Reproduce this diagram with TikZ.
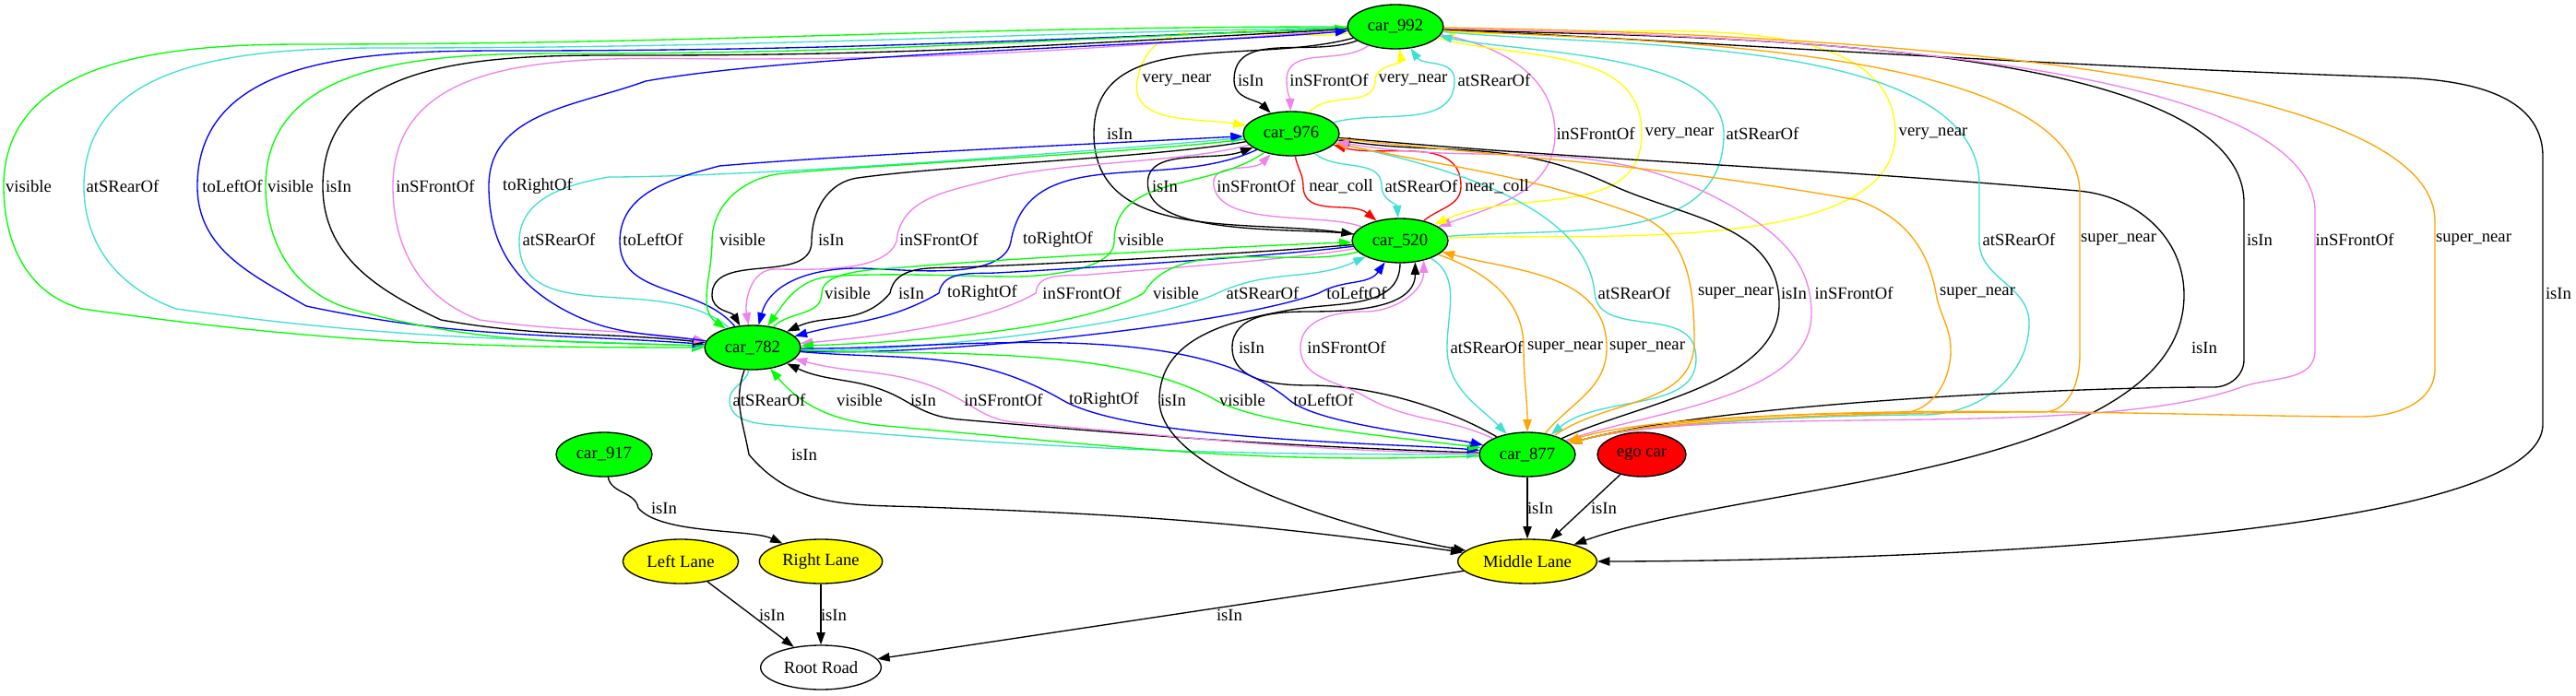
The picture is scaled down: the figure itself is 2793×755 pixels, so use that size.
\documentclass[tikz,border=0pt]{standalone}
\usepackage{fontspec}
\setmainfont{Liberation Serif}
\usetikzlibrary{arrows.meta,shapes.geometric}
\definecolor{gvgreen}{HTML}{00FF00}
\definecolor{gvturq}{HTML}{40E0D0}
\definecolor{gvblue}{HTML}{0000FF}
\definecolor{gvviolet}{HTML}{EE82EE}
\definecolor{gvyellow}{HTML}{FFFF00}
\definecolor{gvorange}{HTML}{FFA500}
\definecolor{gvred}{HTML}{FF0000}
\newcommand\lbl[3]{\node[lb] (#1) at (#2) {#3};}
\begin{document}
\begin{tikzpicture}[x=0.75pt,y=-0.75pt,
  every node/.style={font=\fontsize{14}{16}\selectfont},
  car/.style={ellipse, draw=black, line width=1pt, fill=gvgreen, minimum width=78pt, minimum height=36pt, inner sep=0pt},
  lane/.style={car, fill=gvyellow},
  lb/.style={inner sep=0pt},
  ed/.style={line width=1pt, -{Triangle[length=10pt,width=7pt]}},
  eK/.style={ed, draw=black},
  eG/.style={ed, draw=gvgreen},
  eT/.style={ed, draw=gvturq},
  eB/.style={ed, draw=gvblue},
  eV/.style={ed, draw=gvviolet},
  eY/.style={ed, draw=gvyellow},
  eO/.style={ed, draw=gvorange},
  eR/.style={ed, draw=gvred}]
\useasboundingbox (0,0) rectangle (2793,755);
\fill[white] (0,0) rectangle (2793,755);

% nodes
\node[car] (n992) at (1513,29) {car\_992};
\node[car] (n976) at (1400,145) {car\_976};
\node[car] (n520) at (1518,261) {car\_520};
\node[car] (n782) at (816,377) {car\_782};
\node[car] (n877) at (1656,493) {car\_877};
\node[car] (n917) at (655,493) {car\_917};
\node[car, fill=gvred, minimum width=72pt] (ego) at (1780,493) {ego car};
\node[lane, minimum width=113pt] (ml) at (1656,609) {Middle Lane};
\node[lane, minimum width=94pt] (ll) at (738,609) {Left Lane};
\node[lane, minimum width=100pt] (rl) at (890,609) {Right Lane};
\node[car, fill=white, minimum width=98pt] (rr) at (890,724) {Root Road};

% A: 992 <-> 976
\draw[eY] (n992) to[out=188,in=80] (1233,87) to[out=-100,in=170] (n976);
\draw[eK] (n992) to[out=200,in=90] (1338,87) to[out=-90,in=135] (n976);
\draw[eV] (n992) to[out=215,in=90] (1395,87) to[out=-90,in=92] (n976);
\draw[eY] (n976) to[out=50,in=-90] (1491,87) to[out=90,in=-80] (n992);
\draw[eT] (n976) to[out=15,in=-90] (1577,87) to[out=90,in=-55] (n992);
% B: 992 <-> 520
\draw[eK] (n992) to[out=195,in=90] (1186,145) to[out=-90,in=172] (n520);
\draw[eV] (n992) to[out=-10,in=90] (1686,145) to[out=-90,in=20] (n520);
\draw[eY] (n992) to[out=-15,in=90] (1780,145) to[out=-90,in=25] (n520);
\draw[eT] (n520) to[out=5,in=-90] (1869,145) to[out=90,in=-12,looseness=0.7] (n992);
\draw[eY] (n520) to[out=3,in=-90,looseness=0.7] (2055,145) to[out=90,in=-5,looseness=0.8] (n992);
% C: 992 <-> 782 (far left)
\draw[eG] (n992) to[out=180,in=0] (330,48) to[out=180,in=90] (4,202) to[out=-90,in=165] (89,335) to[out=-8,in=180] (n782);
\draw[eT] (n992) to[out=181,in=0] (420,52) to[out=180,in=90] (91,202) to[out=-90,in=160] (191,335) to[out=-8,in=178] (n782);
\draw[eB] (n992) to[out=182,in=0] (560,55) to[out=180,in=90] (214,202) to[out=-90,in=150] (332,332) to[out=-12,in=176] (n782);
\draw[eG] (n782) to[out=178,in=-15] (383,336) to[out=165,in=-90] (288,202) to[out=90,in=180] (620,58) to[out=0,in=182] (n992);
\draw[eK] (n992) to[out=183,in=0] (700,60) to[out=180,in=90] (350,202) to[out=-90,in=155] (478,347) to[out=-10,in=174] (n782);
\draw[eV] (n992) to[out=184,in=0] (800,64) to[out=180,in=90] (426,202) to[out=-90,in=160] (520,347) to[out=-8,in=172] (n782);
\draw[eB] (n782) to[out=172,in=-30] (606,333) to[out=150,in=-90] (530,202) to[out=90,in=200] (700,88) to[out=10,in=185,looseness=0.6] (n992);
% D: 976 <-> 520
\draw[eK] (n520) to[out=172,in=-80,looseness=0.6] (1245,205) to[out=100,in=200] (n976);
\draw[eV] (n520) to[out=160,in=-80,looseness=0.7] (1316,202) to[out=100,in=225] (n976);
\draw[eR] (n976) to[out=-80,in=90] (1413,202) to[out=-90,in=140] (n520);
\draw[eT] (n976) to[out=-40,in=90] (1498,202) to[out=-90,in=95] (n520);
\draw[eR] (n520) to[out=40,in=-90] (1584,202) to[out=90,in=-15] (n976);
% E: 976 <-> 782
\draw[eT] (n782) to[out=140,in=-90] (563,262) to[out=90,in=190] (660,192) to[out=0,in=185,looseness=0.6] (n976);
\draw[eB] (n782) to[out=130,in=-90] (672,262) to[out=90,in=195] (780,180) to[out=5,in=183,looseness=0.6] (n976);
\draw[eG] (n976) to[out=187,in=5,looseness=0.6] (850,188) to[out=185,in=90] (772,262) to[out=-90,in=145] (n782);
\draw[eK] (n976) to[out=190,in=8,looseness=0.6] (930,193) to[out=188,in=90] (880,262) to[out=-90,in=90] (772,320) to[out=-90,in=120] (n782);
\draw[eV] (n976) to[out=195,in=15,looseness=0.7] (1075,195) to[out=195,in=85] (972,262) to[out=-110,in=0,looseness=0.7] (840,292) to[out=180,in=100] (n782);
\draw[eB] (n976) to[out=205,in=80] (1096,262) to[out=-100,in=0,looseness=0.7] (930,291) to[out=180,in=75] (n782);
\draw[eG] (n976) to[out=215,in=90] (1208,262) to[out=-90,in=0,looseness=0.7] (1100,300) to[out=180,in=5,looseness=0.7] (900,300) to[out=185,in=55] (n782);
% F: 520 <-> 782
\draw[eG] (n782) to[out=45,in=-90] (891,318) to[out=90,in=185,looseness=0.7] (980,290) to[out=5,in=182,looseness=0.6] (n520);
\draw[eK] (n520) to[out=185,in=2,looseness=0.6] (1040,290) to[out=182,in=80] (965,318) to[out=-130,in=25] (n782);
\draw[eB] (n520) to[out=187,in=3,looseness=0.6] (1080,296) to[out=183,in=80] (1018,318) to[out=-150,in=15] (n782);
\draw[eV] (n520) to[out=190,in=5,looseness=0.6] (1180,298) to[out=185,in=85] (1123,318) to[out=-150,in=5,looseness=0.7] (n782);
\draw[eG] (n520) to[out=195,in=60,looseness=0.8] (1240,318) to[out=-150,in=2,looseness=0.6] (n782);
\draw[eT] (n782) to[out=-3,in=205,looseness=0.5] (1320,318) to[out=25,in=205] (n520);
\draw[eB] (n782) to[out=-4,in=200,looseness=0.5] (1430,318) to[out=30,in=235] (n520);
% G: 520 <-> 877
\draw[eK] (n877) to[out=150,in=0,looseness=0.8] (1420,418) to[out=180,in=-90] (1336,377) to[out=90,in=180] (1420,338) to[out=0,in=-90] (n520.-55);
\draw[eV] (n877) to[out=155,in=-30] (1480,430) to[out=150,in=-90] (1410,377) to[out=90,in=180] (1480,338) to[out=0,in=-90] (n520.-40);
\draw[eT] (n520) to[out=-30,in=90] (1569,377) to[out=-90,in=135] (n877);
\draw[eO] (n520) to[out=-20,in=90] (1652,377) to[out=-90,in=90] (n877);
\draw[eO] (n877) to[out=50,in=-90] (1742,377) to[out=90,in=-15] (n520);
% H: 782 <-> 877
\draw[eT] (n782) to[out=-100,in=90] (791,434) to[out=-90,in=175] (850,462) to[out=-5,in=180] (n877);
\draw[eG] (n877) to[out=182,in=-5] (960,462) to[out=175,in=-50] (n782);
\draw[eK] (n877) to[out=178,in=-5] (1040,455) to[out=175,in=-30] (980,434) to[out=150,in=-25] (n782);
\draw[eV] (n877) to[out=179,in=-5] (1100,458) to[out=175,in=-30] (1042,434) to[out=150,in=-15] (n782);
\draw[eB] (n782) to[out=-5,in=150] (1152,434) to[out=-30,in=175,looseness=0.5] (n877);
\draw[eG] (n782) to[out=-3,in=150,looseness=0.7] (1318,434) to[out=-30,in=172,looseness=0.5] (n877);
\draw[eB] (n782) to[out=-1,in=140,looseness=0.7] (1398,434) to[out=-40,in=168,looseness=0.5] (n877);
% isIn to Middle Lane
\draw[eK] (n520) to[out=-90,in=10] (1400,336) to[out=190,in=90] (1257,434) to[out=-90,in=170,looseness=0.6] (ml);
\draw[eK] (n782) to[out=-110,in=100] (812,493) to[out=-50,in=178] (1000,550) to[out=-2,in=172] (ml);
\draw[eK] (n976) to[out=-5,in=175] (2253,207) to[out=-5,in=90] (2368,320) to[out=-90,in=20,looseness=0.7] (ml);
\draw[eK] (n992) to[out=-3,in=178] (2600,84) to[out=-2,in=90] (2757,170) -- (2757,460) to[out=-90,in=0,looseness=0.35] (ml);
% J: 992 -> 877 (far right)
\draw[eT] (n992) to[out=-6,in=90,looseness=0.7] (2146,200) -- (2146,262) to[out=-90,in=90] (2200,350) to[out=-90,in=0] (2085,450) to[out=180,in=15,looseness=0.6] (n877);
\draw[eO] (n992) to[out=-4,in=90,looseness=0.6] (2255,210) -- (2255,385) to[out=-90,in=0] (2215,447) to[out=180,in=15,looseness=0.6] (n877);
\draw[eK] (n992) to[out=-3,in=90,looseness=0.55] (2433,220) -- (2433,390) to[out=-90,in=0] (2400,420) to[out=180,in=15,looseness=0.6] (n877);
\draw[eV] (n992) to[out=-2,in=90,looseness=0.5] (2510,230) -- (2510,380) to[out=-90,in=20] (2430,420) to[out=200,in=15,looseness=0.6] (n877);
\draw[eO] (n992) to[out=-1,in=90,looseness=0.45] (2640,240) -- (2640,400) to[out=-90,in=0] (2560,452) to[out=180,in=15,looseness=0.6] (n877);
% K: 976 <-> 877
\draw[eT] (n976) to[out=-12,in=95,looseness=0.8] (1729,318) to[out=-85,in=100] (1838,380) to[out=-80,in=40] (n877);
\draw[eO] (n877) to[out=35,in=-90] (1837,370) to[out=90,in=-20] (1775,233) to[out=160,in=-12] (n976);
\draw[eK] (n877) to[out=25,in=-90,looseness=0.8] (1929,330) to[out=90,in=-25] (1746,200) to[out=155,in=-8] (n976);
\draw[eV] (n877) to[out=20,in=-90,looseness=0.8] (1964,340) to[out=90,in=-30] (1880,225) to[out=150,in=-10] (n976);
\draw[eO] (n976) to[out=-6,in=170] (2014,217) to[out=-20,in=100] (2099,318) to[out=-80,in=90] (2115,380) to[out=-90,in=0] (2060,448) to[out=180,in=18,looseness=0.6] (n877);
% bottom
\draw[eK] (n877) -- (ml);
\draw[eK] (ego) -- (ml);
\draw[eK] (n917) to[out=-80,in=100] (692,551) to[out=-50,in=155,looseness=0.6] (rl);
\draw[eK] (ll) -- (rr);
\draw[eK] (rl) -- (rr);
\draw[eK] (ml) -- (rr);

% labels
\lbl{la1}{1276,87}{very\_near}
\lbl{la2}{1356,87}{isIn}
\lbl{la3}{1441,87}{inSFrontOf}
\lbl{la4}{1532,87}{very\_near}
\lbl{la5}{1620,87}{atSRearOf}
\lbl{lb1}{1214,145}{isIn}
\lbl{lb2}{1730,145}{inSFrontOf}
\lbl{lb3}{1821,145}{very\_near}
\lbl{lb4}{1911,145}{atSRearOf}
\lbl{lb5}{2096,145}{very\_near}
\lbl{lc1}{31,202}{visible}
\lbl{lc2}{133,202}{atSRearOf}
\lbl{lc3}{252,202}{toLeftOf}
\lbl{lc4}{315,202}{visible}
\lbl{lc5}{367,202}{isIn}
\lbl{lc6}{472,202}{inSFrontOf}
\lbl{lc7}{583,202}{toRightOf}
\lbl{ld1}{1263,202}{isIn}
\lbl{ld2}{1362,202}{inSFrontOf}
\lbl{ld3}{1454,202}{near\_coll}
\lbl{ld4}{1541,202}{atSRearOf}
\lbl{ld5}{1623,202}{near\_coll}
\lbl{le1}{606,260}{atSRearOf}
\lbl{le2}{708,260}{toLeftOf}
\lbl{le3}{805,260}{visible}
\lbl{le4}{901,260}{isIn}
\lbl{le5}{1018,260}{inSFrontOf}
\lbl{le6}{1147,260}{toRightOf}
\lbl{le7}{1237,260}{visible}
\lbl{lj1}{2189,260}{atSRearOf}
\lbl{lj2}{2297,260}{super\_near}
\lbl{lj3}{2450,260}{isIn}
\lbl{lj4}{2553,260}{inSFrontOf}
\lbl{lj5}{2682,260}{super\_near}
\lbl{lf1}{919,318}{visible}
\lbl{lf2}{988,318}{isIn}
\lbl{lf3}{1065,318}{toRightOf}
\lbl{lf4}{1173,318}{inSFrontOf}
\lbl{lf5}{1275,318}{visible}
\lbl{lf6}{1369,318}{atSRearOf}
\lbl{lf7}{1471,318}{toLeftOf}
\lbl{lk1}{1772,318}{atSRearOf}
\lbl{lk2}{1882,318}{super\_near}
\lbl{lk3}{1945,318}{isIn}
\lbl{lk4}{2010,318}{inSFrontOf}
\lbl{lk5}{2144,318}{super\_near}
\lbl{lk6}{2774,318}{isIn}
\lbl{lg1}{1357,377}{isIn}
\lbl{lg2}{1460,377}{inSFrontOf}
\lbl{lg3}{1612,377}{atSRearOf}
\lbl{lg4}{1697,377}{super\_near}
\lbl{lg5}{1786,377}{super\_near}
\lbl{lg6}{2390,377}{isIn}
\lbl{lh1}{834,434}{atSRearOf}
\lbl{lh2}{932,434}{visible}
\lbl{lh3}{1001,434}{isIn}
\lbl{lh4}{1088,434}{inSFrontOf}
\lbl{lh5}{1197,434}{toRightOf}
\lbl{lh6}{1272,434}{isIn}
\lbl{lh7}{1347,434}{visible}
\lbl{lh8}{1435,434}{toLeftOf}
\lbl{lm1}{872,493}{isIn}
\lbl{lm2}{720,551}{isIn}
\lbl{lm3}{1670,551}{isIn}
\lbl{lm4}{1739,551}{isIn}
\lbl{lr1}{837,667}{isIn}
\lbl{lr2}{904,667}{isIn}
\lbl{lr3}{1333,667}{isIn}
\end{tikzpicture}
\end{document}
